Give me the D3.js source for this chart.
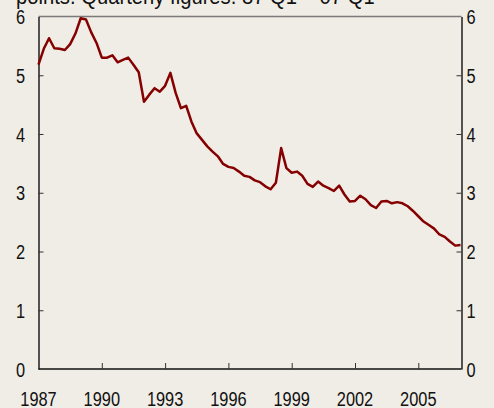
<!DOCTYPE html>
<html>
<head>
<meta charset="utf-8">
<script src="https://cdn.jsdelivr.net/npm/d3@7"></script>
<style>
  body { margin: 0; background: #f0ede6; }
  svg { display: block; }
  text { font-family: "Liberation Sans Narrow", "Arial Narrow", "Liberation Sans", Arial, sans-serif; fill: #111; }
</style>
</head>
<body>
<div id="main"></div>
<script>
// data: quarterly figures, 87 Q1 - 07 Q1
var startYear = 1987;
var values = [
  5.18, 5.45, 5.63, 5.46,   // 1987
  5.45, 5.43, 5.53, 5.71,   // 1988
  5.97, 5.95, 5.73, 5.55,   // 1989
  5.30, 5.30, 5.34, 5.22,   // 1990
  5.26, 5.30, 5.18, 5.05,   // 1991
  4.55, 4.67, 4.78, 4.72,   // 1992
  4.82, 5.04, 4.70, 4.44,   // 1993
  4.48, 4.21, 4.01, 3.90,   // 1994
  3.79, 3.70, 3.62, 3.49,   // 1995
  3.44, 3.42, 3.36, 3.29,   // 1996
  3.27, 3.21, 3.18, 3.11,   // 1997
  3.06, 3.17, 3.76, 3.42,   // 1998
  3.34, 3.36, 3.29, 3.15,   // 1999
  3.10, 3.19, 3.12, 3.08,   // 2000
  3.03, 3.12, 2.97, 2.85,   // 2001
  2.86, 2.95, 2.89, 2.79,   // 2002
  2.74, 2.85, 2.86, 2.82,   // 2003
  2.84, 2.82, 2.77, 2.69,   // 2004
  2.60, 2.51, 2.45, 2.39,   // 2005
  2.29, 2.25, 2.17, 2.10,   // 2006
  2.11                      // 2007
];
var xTicks = [1987, 1990, 1993, 1996, 1999, 2002, 2005];
var yTicks = [0, 1, 2, 3, 4, 5, 6];
var title = "points. Quarterly figures. 87 Q1 \u2013 07 Q1";

// size (plot box)
var width = 494, height = 408;
var pLeft = 38.5, pRight = 461.5, pTop = 16.5, pBottom = 369;
var squeeze = 0.78; // narrow look of the labels

var svg = d3.select("#main").append("svg")
    .attr("width", width)
    .attr("height", height);

var x = d3.scaleLinear().domain([1987, 2007]).range([pLeft, pRight - 1]);
var y = d3.scaleLinear().domain([0, 6]).range([pBottom, pTop]);

function place(px, py, s) {
    return "translate(" + px + "," + py + ") scale(" + (s || squeeze) + ",1)";
}

// cut-off title line at the very top
svg.append("text")
    .attr("transform", place(16, 4, 0.92))
    .style("font-size", "22px")
    .text(title);

// frame
svg.append("line")
    .attr("x1", pLeft).attr("x2", pRight).attr("y1", pTop).attr("y2", pTop)
    .attr("stroke", "#7a7a7a").attr("stroke-width", 1.6);
svg.append("line")
    .attr("x1", pLeft).attr("x2", pRight).attr("y1", pBottom).attr("y2", pBottom)
    .attr("stroke", "#111").attr("stroke-width", 1.4);

// side axes, ticks pointing inward
var yLeft = svg.append("g")
    .attr("transform", "translate(" + pLeft + ",0)")
    .call(d3.axisRight(y).tickValues(yTicks).tickSize(5).tickSizeOuter(0).tickFormat(""));
var yRight = svg.append("g")
    .attr("transform", "translate(" + pRight + ",0)")
    .call(d3.axisLeft(y).tickValues(yTicks).tickSize(5).tickSizeOuter(0).tickFormat(""));
[yLeft, yRight].forEach(function(g) {
    g.select(".domain").attr("stroke", "#111").attr("stroke-width", 1.4);
    g.selectAll(".tick line").attr("stroke", "#333");
    g.selectAll(".tick").filter(function(d) { return d === 0 || d === 6; }).select("line").remove();
});

// y labels
svg.selectAll(".ylab-l")
    .data(yTicks)
    .enter().append("text")
    .attr("class", "ylab-l")
    .attr("transform", function(d) { return place(25, y(d)); })
    .attr("dy", "0.36em")
    .attr("text-anchor", "end")
    .style("font-size", "21px")
    .text(function(d) { return d; });
svg.selectAll(".ylab-r")
    .data(yTicks)
    .enter().append("text")
    .attr("class", "ylab-r")
    .attr("transform", function(d) { return place(466.5, y(d)); })
    .attr("dy", "0.36em")
    .attr("text-anchor", "start")
    .style("font-size", "21px")
    .text(function(d) { return d; });

// x axis ticks (inward) and labels
var xAxis = svg.append("g")
    .attr("transform", "translate(0," + pBottom + ")")
    .call(d3.axisTop(x).tickValues(xTicks.slice(1)).tickSize(6).tickFormat(""));
xAxis.select(".domain").remove();
xAxis.selectAll(".tick line").attr("stroke", "#333");

svg.selectAll(".xlab")
    .data(xTicks)
    .enter().append("text")
    .attr("class", "xlab")
    .attr("transform", function(d) { return place(x(d), 406); })
    .attr("text-anchor", "middle")
    .style("font-size", "21px")
    .text(function(d) { return d; });

// line
var line = d3.line()
    .x(function(d, i) { return x(startYear + i / 4); })
    .y(function(d) { return y(d); });

svg.append("path")
    .datum(values)
    .attr("d", line)
    .attr("fill", "none")
    .attr("stroke", "#850000")
    .attr("stroke-width", 2.5)
    .attr("stroke-linejoin", "round");
</script>
</body>
</html>
